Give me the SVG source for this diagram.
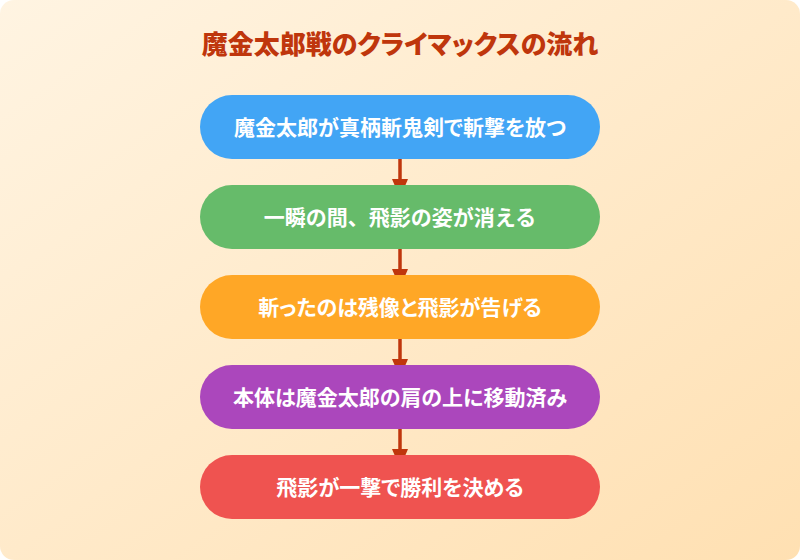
<svg xmlns="http://www.w3.org/2000/svg" width="800" height="560" viewBox="0 0 800 560">
  <defs>
    <linearGradient id="bg" x1="0" y1="0" x2="1" y2="1">
      <stop offset="0" stop-color="#fff4e2"/>
      <stop offset="1" stop-color="#ffe0b2"/>
    </linearGradient>
    <style>
      .title { font-family: "Noto Sans CJK JP", "Noto Sans", sans-serif; font-size: 26px; font-weight: 900; fill: #bf360c; text-anchor: middle; font-feature-settings: "palt" 1; }
      .label { font-family: "Noto Sans CJK JP", "Noto Sans", sans-serif; font-size: 21px; font-weight: 700; fill: #ffffff; text-anchor: middle; font-feature-settings: "palt" 1; }
      .full { font-feature-settings: normal; }
      .edge { stroke: #bf360c; stroke-width: 3.5; fill: none; }
      .head { fill: #bf360c; }
    </style>
  </defs>
  <rect x="0" y="0" width="800" height="560" rx="14" ry="14" fill="url(#bg)"/>
  <text class="title" x="400" y="54">魔金太郎戦のクライマックスの流れ</text>
  <g id="connectors">
    <line class="edge" x1="400" y1="159" x2="400" y2="182"/>
    <polygon class="head" points="392,179 408,179 400,198"/>
    <line class="edge" x1="400" y1="249" x2="400" y2="272"/>
    <polygon class="head" points="392,269 408,269 400,288"/>
    <line class="edge" x1="400" y1="339" x2="400" y2="362"/>
    <polygon class="head" points="392,359 408,359 400,378"/>
    <line class="edge" x1="400" y1="429" x2="400" y2="452"/>
    <polygon class="head" points="392,449 408,449 400,468"/>
  </g>
  <g id="node1">
    <rect x="200" y="95" width="400" height="64" rx="32" fill="#42a5f5"/>
    <text class="label" x="400" y="135">魔金太郎が真柄斬鬼剣で斬撃を放つ</text>
  </g>
  <g id="node2">
    <rect x="200" y="185" width="400" height="64" rx="32" fill="#66bb6a"/>
    <text class="label full" x="400" y="225">一瞬の間、飛影の姿が消える</text>
  </g>
  <g id="node3">
    <rect x="200" y="275" width="400" height="64" rx="32" fill="#ffa726"/>
    <text class="label" x="400" y="315">斬ったのは残像と飛影が告げる</text>
  </g>
  <g id="node4">
    <rect x="200" y="365" width="400" height="64" rx="32" fill="#ab47bc"/>
    <text class="label" x="400" y="405">本体は魔金太郎の肩の上に移動済み</text>
  </g>
  <g id="node5">
    <rect x="200" y="455" width="400" height="64" rx="32" fill="#ef5350"/>
    <text class="label" x="400" y="495">飛影が一撃で勝利を決める</text>
  </g>
</svg>
